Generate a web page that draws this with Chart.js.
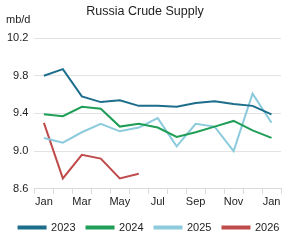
<!DOCTYPE html>
<html>
<head>
<meta charset="utf-8">
<script src="https://cdn.jsdelivr.net/npm/chart.js@4.4.1/dist/chart.umd.min.js"></script>
<style>
html,body{margin:0;padding:0;background:#fff;}
#wrap{width:300px;height:243px;position:relative;}
</style>
</head>
<body>
<div id="wrap"><canvas id="c" width="300" height="243"></canvas></div>
<script>
const months = ["Jan","Feb","Mar","Apr","May","Jun","Jul","Aug","Sep","Oct","Nov","Dec","Jan"];
const y2023 = [9.80, 9.87, 9.58, 9.52, 9.54, 9.48, 9.48, 9.47, 9.51, 9.53, 9.50, 9.48, 9.39];
const y2024 = [9.39, 9.37, 9.47, 9.45, 9.26, 9.29, 9.25, 9.15, 9.20, 9.26, 9.32, 9.22, 9.14];
const y2025 = [9.14, 9.09, 9.20, 9.29, 9.21, 9.25, 9.35, 9.05, 9.29, 9.26, 9.00, 9.61, 9.30];
const y2026 = [9.30, 8.71, 8.96, 8.92, 8.71, 8.76, null, null, null, null, null, null, null];
const yTicks = [8.6, 9.0, 9.4, 9.8, 10.2];
const titleText = "Russia Crude Supply";
const unitText = "mb/d";

const FONT = "'Liberation Sans', Arial, sans-serif";

const textPlugin = {
  id: 'texts',
  afterDraw(chart) {
    const ctx = chart.ctx;
    ctx.save();
    ctx.fillStyle = '#222';
    ctx.font = "12.5px " + FONT;
    ctx.textAlign = 'center';
    ctx.textBaseline = 'middle';
    ctx.fillText(titleText, 145, 12);
    ctx.font = "11px " + FONT;
    ctx.textAlign = 'left';
    ctx.fillText(unitText, 6, 20);
    ctx.restore();
  }
};

function ds(label, data, color) {
  return {label, data, borderColor: color, backgroundColor: color, borderWidth: 2,
    pointRadius: 0, tension: 0, fill: false, spanGaps: false};
}

new Chart(document.getElementById('c'), {
  type: 'line',
  data: {
    labels: months,
    datasets: [
      ds('2023', y2023, '#1d6e8c'),
      ds('2024', y2024, '#1f9e57'),
      ds('2025', y2025, '#8ccbdc'),
      ds('2026', y2026, '#bf4b4b')
    ]
  },
  options: {
    responsive: false,
    animation: false,
    layout: {padding: {top: 38, left: 1, right: 3, bottom: 0}},
    plugins: {
      title: {display: false},
      tooltip: {enabled: false},
      legend: {
        position: 'bottom',
        labels: {
          font: {family: FONT, size: 11},
          color: '#222',
          boxWidth: 27,
          boxHeight: 2,
          padding: 11
        }
      }
    },
    scales: {
      x: {
        offset: true,
        grid: {display: true, offset: true, drawOnChartArea: false, drawTicks: true, tickLength: 5, color: '#d9d9d9'},
        border: {display: true, color: '#d9d9d9'},
        ticks: {
          autoSkip: false, maxRotation: 0, color: '#222',
          font: {family: FONT, size: 11}, padding: 2,
          callback: function(v, i) { return i % 2 === 0 ? months[i] : ''; }
        }
      },
      y: {
        min: 8.6, max: 10.2,
        afterBuildTicks: function(axis) { axis.ticks = yTicks.map(v => ({value: v})); },
        grid: {color: '#e3e3e3', drawTicks: false, lineWidth: 1},
        border: {display: false},
        ticks: {
          color: '#222', font: {family: FONT, size: 11}, padding: 6,
          callback: function(v) { return Number(v).toFixed(1); }
        }
      },
      yr: {
        position: 'right',
        display: true,
        min: 8.6, max: 10.2,
        grid: {display: false, drawTicks: false},
        border: {display: false},
        ticks: {display: false},
        afterFit: function(axis) { axis.width = 16; }
      }
    }
  },
  plugins: [textPlugin]
});
</script>
</body>
</html>
